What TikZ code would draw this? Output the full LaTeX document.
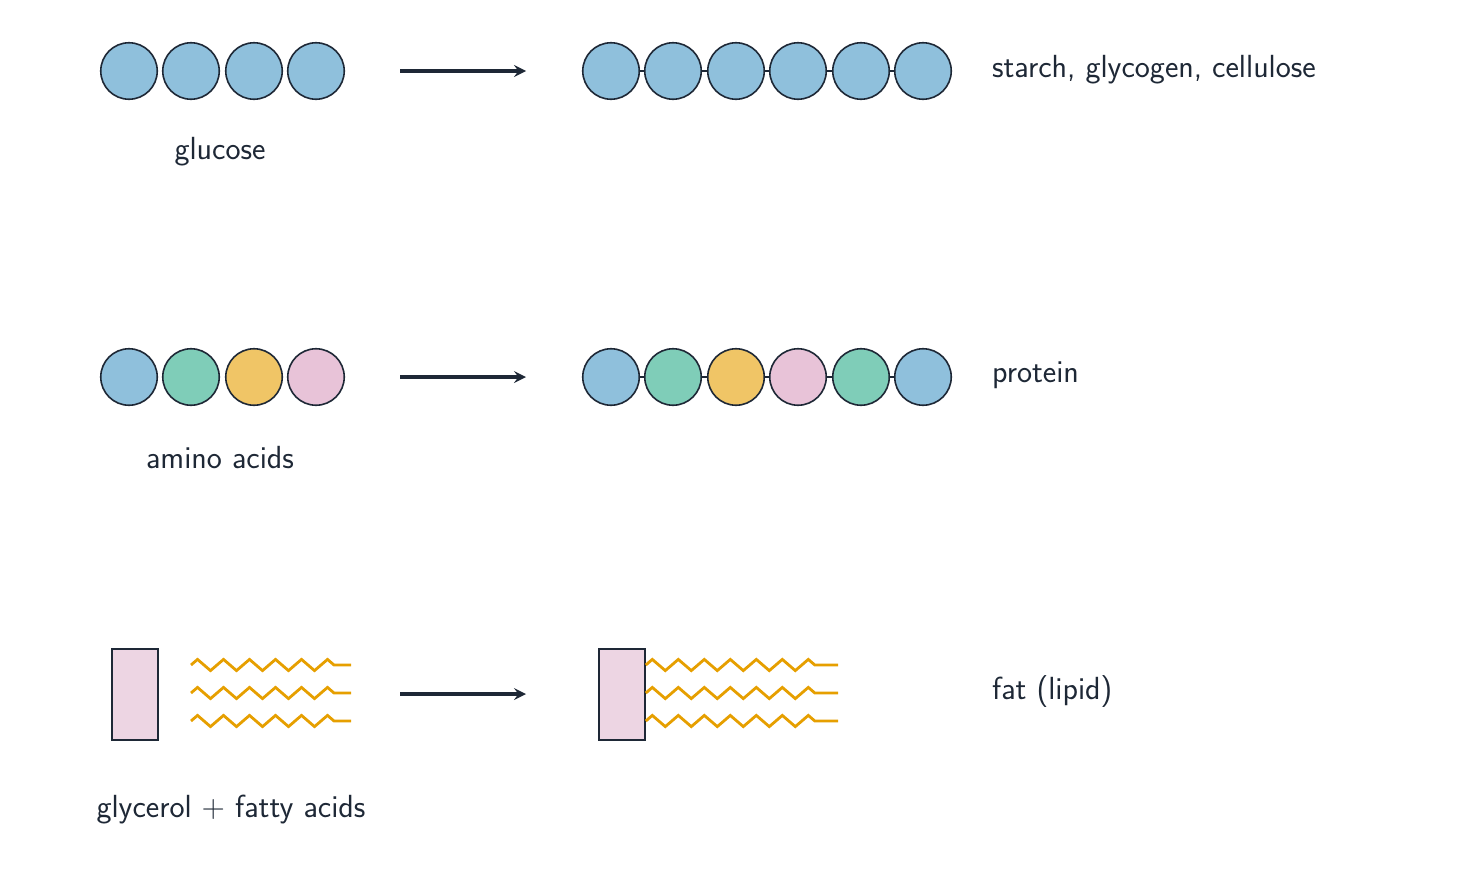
\documentclass[tikz,border=0pt]{standalone}
\usetikzlibrary{decorations.pathmorphing}
\definecolor{ink}{HTML}{1E2836}
\definecolor{cblue}{HTML}{8FC0DC}
\definecolor{cgreen}{HTML}{7FCDB8}
\definecolor{cyellow}{HTML}{F0C566}
\definecolor{cpink}{HTML}{E8C3D8}
\definecolor{glyc}{HTML}{EDD5E3}
\definecolor{fatty}{HTML}{E69F00}
\tikzset{
  unit/.style={draw=ink, circle, thick, minimum size=56.5pt*0.5, inner sep=0pt},
  react/.style={-stealth, ink, line width=1.6pt},
  label/.style={text=ink, font=\fontsize{16}{19}\selectfont\sffamily},
  chain/.style={fatty, line width=1.4pt, decorate,
    decoration={zigzag, segment length=13pt, amplitude=2.8pt, post length=6pt}},
  glycerol/.style={draw=ink, thick, fill=glyc, minimum width=23pt, minimum height=45.5pt, inner sep=0pt}
}
\begin{document}
\begin{tikzpicture}[x=0.5pt,y=-0.5pt]
  \useasboundingbox (0,0) rectangle (1478,884);
  % sugars
  \foreach \i/\x in {1/129,2/191,3/254,4/316}
    \node[unit, fill=cblue] (g\i) at (\x,71) {};
  \foreach \i/\x in {1/611,2/673,3/736,4/798,5/861,6/923}
    \node[unit, fill=cblue] (s\i) at (\x,71) {};
  \foreach \i [count=\j from 2] in {1,...,5}
    \draw[ink, thick] (s\i) -- (s\j);
  \coordinate (a1) at (400,71);
  \coordinate (b1) at (526,71);
  \draw[react] (a1) -- (b1);
  \node[label] (glucose) at (220,152) {glucose};
  \node[label, anchor=west] (starch) at (985,70) {starch, glycogen, cellulose};

  % amino acids
  \foreach \i/\x/\c in {1/129/cblue,2/191/cgreen,3/254/cyellow,4/316/cpink}
    \node[unit, fill=\c] (m\i) at (\x,377) {};
  \foreach \i/\x/\c in {1/611/cblue,2/673/cgreen,3/736/cyellow,4/798/cpink,5/861/cgreen,6/923/cblue}
    \node[unit, fill=\c] (p\i) at (\x,377) {};
  \foreach \i [count=\j from 2] in {1,...,5}
    \draw[ink, thick] (p\i) -- (p\j);
  \coordinate (a2) at (400,377);
  \coordinate (b2) at (526,377);
  \draw[react] (a2) -- (b2);
  \node[label] (amino) at (220,458) {amino acids};
  \node[label, anchor=west] (protein) at (985,375) {protein};

  % lipids
  \node[glycerol] (gl) at (135,694.5) {};
  \foreach \y in {665,693,721}
    \draw[chain] (191,\y) -- (351,\y);
  \node[glycerol] (gr) at (622,694.5) {};
  \foreach \y in {665,693,721}
    \draw[chain] (gr.east |- 0,\y) -- (838,\y);
  \coordinate (a3) at (400,694);
  \coordinate (b3) at (526,694);
  \draw[react] (a3) -- (b3);
  \node[label] (glycfat) at (231,810) {glycerol + fatty acids};
  \node[label, anchor=west] (fat) at (985,692) {fat (lipid)};
\end{tikzpicture}
\end{document}
